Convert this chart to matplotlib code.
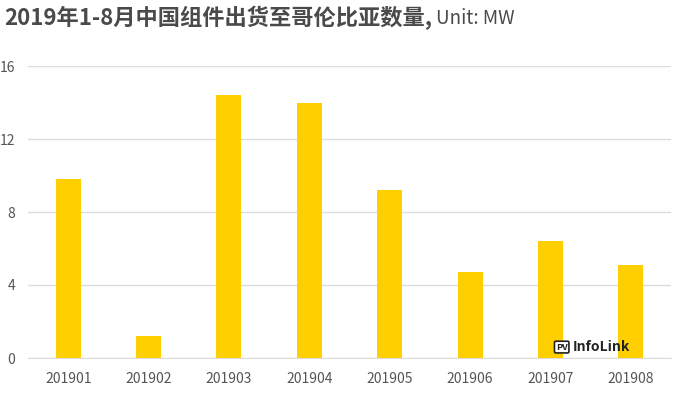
import matplotlib
matplotlib.use("Agg")
import matplotlib.pyplot as plt

plt.rcParams['font.family'] = ['Noto Sans CJK SC', 'DejaVu Sans']

# monthly module shipments to Colombia, MW
months = ['201901', '201902', '201903', '201904', '201905', '201906', '201907', '201908']
shipments = [9.8, 1.2, 14.4, 14.0, 9.2, 4.7, 6.4, 5.1]
yticks = [0, 4, 8, 12, 16]

fig = plt.figure(figsize=(6.89, 3.99), dpi=100)
ax = fig.add_axes([28 / 689, 41 / 399, 643 / 689, 292 / 399])

x = range(len(months))
ax.bar(x, shipments, width=0.31, color='#FFCF00', zorder=3)

ax.set_xlim(-0.5, len(months) - 0.5)
ax.set_ylim(0, 16)
ax.set_yticks(yticks)
ax.set_xticks(list(x))
ax.set_xticklabels(months)
ax.grid(axis='y', color='#dcdcdc', linewidth=1, zorder=0)
for side in ['top', 'right', 'left']:
    ax.spines[side].set_visible(False)
ax.spines['bottom'].set_color('#dcdcdc')
ax.tick_params(axis='both', length=0, labelsize=10, colors='#555555')
ax.tick_params(axis='x', pad=10)
ax.tick_params(axis='y', pad=9)

# title: bold Chinese part, regular unit part
t1 = fig.text(4 / 689, 1 - 18 / 399, '2019年1-8月中国组件出货至哥伦比亚数量,',
              fontsize=16, fontweight='bold', color='#4a4a4a', va='center')
fig.canvas.draw()
bb = t1.get_window_extent()
fig.text((bb.x1 + 4) / 689, 1 - 18 / 399, 'Unit: MW', fontsize=13.5,
         color='#4a4a4a', va='center')

# watermark
ax.text(0.83, 0.022, 'PV', transform=ax.transAxes, fontsize=6.5, fontweight='bold',
        color='#222222', va='bottom', ha='center',
        bbox=dict(boxstyle='round,pad=0.15', fc='white', ec='#222222', lw=1.2), zorder=5)
ax.text(0.847, 0.015, 'InfoLink', transform=ax.transAxes, fontsize=10, fontweight='bold',
        color='#222222', va='bottom', ha='left', zorder=5)

fig.savefig('out.png', dpi=100)
